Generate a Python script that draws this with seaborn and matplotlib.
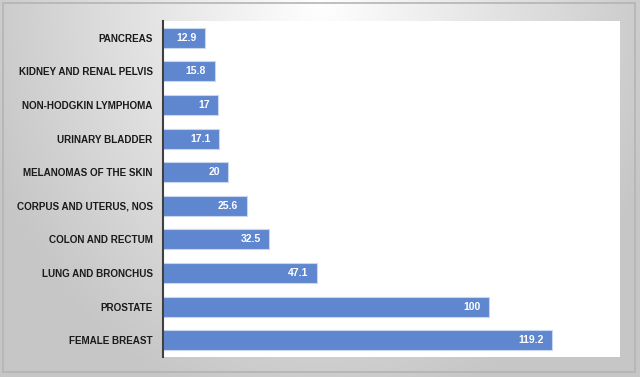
import numpy as np
import pandas as pd
import matplotlib
matplotlib.use("Agg")
import matplotlib.pyplot as plt
import seaborn as sns
from matplotlib.patches import Rectangle
from matplotlib import font_manager

categories = ["PANCREAS", "KIDNEY AND RENAL PELVIS", "NON-HODGKIN LYMPHOMA",
              "URINARY BLADDER", "MELANOMAS OF THE SKIN", "CORPUS AND UTERUS, NOS",
              "COLON AND RECTUM", "LUNG AND BRONCHUS", "PROSTATE", "FEMALE BREAST"]
values = [12.9, 15.8, 17, 17.1, 20, 25.6, 32.5, 47.1, 100, 119.2]
labels = ["12.9", "15.8", "17", "17.1", "20", "25.6", "32.5", "47.1", "100", "119.2"]

df = pd.DataFrame({"cat": categories, "val": values})

sns.set_theme(style="white")
names = {f.name for f in font_manager.fontManager.ttflist}
narrow = 'Liberation Sans Narrow' in names
if narrow:
    plt.rcParams['font.family'] = ['Liberation Sans Narrow', 'DejaVu Sans']
    fs_lab, fs_val = 8.5, 8.5
else:
    plt.rcParams['font.family'] = ['Liberation Sans', 'DejaVu Sans']
    fs_lab, fs_val = 7.1, 7.5

W, H = 640, 377
fig = plt.figure(figsize=(W/100, H/100), dpi=100)

# background gradient
bg = fig.add_axes([0, 0, 1, 1], zorder=-10)
yy, xx = np.mgrid[0:H, 0:W]
cx, cy = W * 0.5, 0
d = np.sqrt(((xx - cx) / (W * 0.55)) ** 2 + ((yy - cy) / (H * 1.1)) ** 2)
shade = np.clip(1.0 - 0.22 * d, 0.78, 1.0)
img = np.dstack([shade, shade, shade])
bg.imshow(img, extent=[0, W, H, 0], aspect='auto', interpolation='bilinear')
bg.add_patch(Rectangle((3, 3), W - 8, H - 8, fill=False, edgecolor='#b4b4b4', linewidth=1.2))
bg.set_xlim(0, W); bg.set_ylim(H, 0)
bg.axis('off')

ax = fig.add_axes([163/W, 1 - 357/H, (620 - 163)/W, (357 - 21)/H])
ax.set_facecolor('white')
sns.barplot(data=df, x="val", y="cat", orient="h", color="#5F87CF", saturation=1,
            width=0.6, edgecolor="#c9d6ee", linewidth=0.8, ax=ax)
ax.set_xlim(0, 140)
ax.set_ylim(9.5, -0.5)
ax.set_xlabel("")
ax.set_ylabel("")
ax.set_xticks([])
for s in ["top", "right", "bottom"]:
    ax.spines[s].set_visible(False)
ax.spines["left"].set_color("#404040")
ax.spines["left"].set_linewidth(1.5)
ax.tick_params(axis='y', length=0, pad=7.5)
for t in ax.get_yticklabels():
    t.set_fontsize(fs_lab)
    t.set_fontweight('bold')
    t.set_color('#1a1a1a')

for i, (v, lab) in enumerate(zip(values, labels)):
    ax.annotate(lab, (v, i), xytext=(-6, 0), textcoords='offset points',
                ha='right', va='center', color='white', fontsize=fs_val, fontweight='bold')

fig.savefig("out.png", dpi=100)
